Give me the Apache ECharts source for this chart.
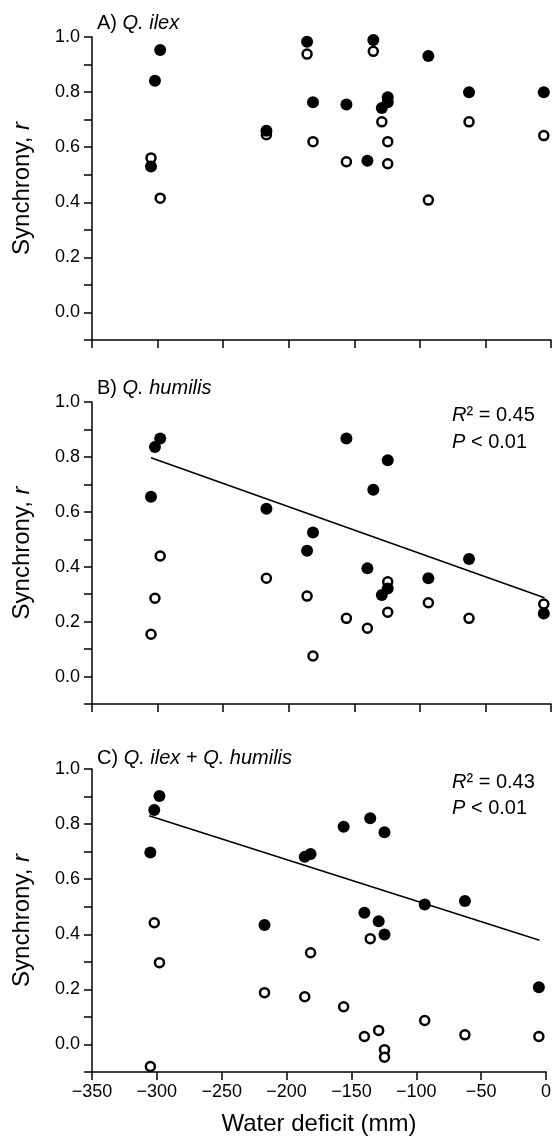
<!DOCTYPE html>
<html>
<head>
<meta charset="utf-8">
<script src="https://cdn.jsdelivr.net/npm/echarts@6/dist/echarts.min.js"></script>
<style>
  html, body { margin: 0; padding: 0; background: #fff; }
  #chart { width: 554px; height: 1147px; }
</style>
</head>
<body>
<div id="chart"></div>
<script>
// water deficit (mm) of the 15 sites, shared by all panels
var sites = [-305, -302, -298, -217, -186, -181.5, -156, -140, -135.5, -129, -124.5, -124.5, -93.5, -62.5, -5.5];

// A) Q. ilex
var ilexFilled = [0.530, 0.841, 0.953, 0.660, 0.983, 0.763, 0.755, 0.551, 0.989, 0.742, 0.781, 0.763, 0.931, 0.799, 0.799];
var ilexOpen = [0.561, null, 0.415, 0.645, 0.938, 0.620, 0.547, null, 0.948, 0.692, 0.620, 0.540, 0.408, 0.692, 0.642];

// B) Q. humilis
var humilisFilled = [0.655, 0.836, 0.867, 0.611, 0.458, 0.525, 0.867, 0.394, 0.680, 0.297, 0.321, 0.788, 0.358, 0.428, 0.230];
var humilisOpen = [0.154, 0.285, 0.439, 0.358, 0.293, 0.075, 0.212, 0.176, null, null, 0.345, 0.234, 0.269, 0.212, 0.264];
var humilisFit = [[-305, 0.797], [-5, 0.287]];

// C) Q. ilex + Q. humilis
var bothFilled = [0.697, 0.851, 0.902, 0.434, 0.681, 0.691, 0.790, 0.478, 0.821, 0.447, 0.399, 0.770, 0.508, 0.521, 0.208];
var bothOpen = [-0.080, 0.442, 0.297, 0.188, 0.173, 0.333, 0.137, 0.029, 0.384, 0.051, -0.019, -0.046, 0.087, 0.035, 0.029];
var bothFit = [[-306, 0.830], [-5, 0.378]];

var xTicks = [-350, -300, -250, -200, -150, -100, -50, 0];

var FONT = '"Liberation Sans", Arial, sans-serif';

function pairs(ys) {
    var out = [];
    for (var i = 0; i < sites.length; i++) {
        if (ys[i] !== null) out.push([sites[i], ys[i]]);
    }
    return out;
}

var grids = [
    {left: 92, width: 459, top: 37, height: 303},
    {left: 92, width: 459, top: 402, height: 302},
    {left: 92, width: 459, top: 769, height: 303}
];

var xAxes = [], yAxes = [];
for (var g = 0; g < 3; g++) {
    xAxes.push({
        type: 'value',
        gridIndex: g,
        min: xTicks[0],
        max: xTicks[xTicks.length - 1],
        interval: 50,
        splitLine: {show: false},
        axisLine: {onZero: false, lineStyle: {color: '#000', width: 1.5}},
        axisTick: {show: true, length: 8, lineStyle: {color: '#000', width: 1.5}},
        axisLabel: {
            show: g === 2,
            margin: 11,
            color: '#000',
            fontSize: 18,
            fontFamily: FONT,
            formatter: function (v) {
                return v < 0 ? '\u2212' + Math.abs(v) : String(v);
            }
        },
        name: g === 2 ? 'Water deficit (mm)' : '',
        nameLocation: 'middle',
        nameGap: 40,
        nameTextStyle: {color: '#000', fontSize: 24, fontFamily: FONT}
    });
    yAxes.push({
        type: 'value',
        gridIndex: g,
        min: -0.1,
        max: 1.0,
        interval: 0.1,
        splitLine: {show: false},
        axisLine: {onZero: false, lineStyle: {color: '#000', width: 1.5}},
        axisTick: {show: true, length: 8, lineStyle: {color: '#000', width: 1.5}},
        axisLabel: {
            margin: 12,
            color: '#000',
            fontSize: 18,
            fontFamily: FONT,
            formatter: function (v) {
                var k = Math.round(v * 10);
                return (k >= 0 && k % 2 === 0) ? v.toFixed(1) : '';
            }
        },
        name: 'Synchrony, {i|r}',
        nameLocation: 'middle',
        nameRotate: 90,
        nameGap: 58,
        nameTextStyle: {
            color: '#000', fontSize: 24, fontFamily: FONT,
            rich: {i: {fontStyle: 'italic', fontSize: 24, fontFamily: FONT, color: '#000'}}
        }
    });
}

function openSeries(data, g) {
    return {
        type: 'scatter', xAxisIndex: g, yAxisIndex: g, data: pairs(data),
        symbol: 'circle', symbolSize: 9, z: 3,
        itemStyle: {color: '#fff', borderColor: '#000', borderWidth: 2.5, opacity: 1}
    };
}
function filledSeries(data, g) {
    return {
        type: 'scatter', xAxisIndex: g, yAxisIndex: g, data: pairs(data),
        symbol: 'circle', symbolSize: 12, z: 4,
        itemStyle: {color: '#000', opacity: 1}
    };
}
function fitSeries(data, g) {
    return {
        type: 'line', xAxisIndex: g, yAxisIndex: g, data: data,
        symbol: 'none', silent: true, z: 2,
        lineStyle: {color: '#000', width: 1.6}
    };
}

function label(text, left, top, size) {
    var rich = {i: {fontStyle: 'italic', fontFamily: FONT, color: '#000', fontSize: size}};
    return {
        text: text, left: left, top: top,
        textStyle: {fontWeight: 'normal', fontFamily: FONT, fontSize: size, color: '#000', rich: rich}
    };
}

var option = {
    animation: false,
    backgroundColor: '#fff',
    title: [
        label('A) {i|Q. ilex}', 92, 8, 20),
        label('B) {i|Q. humilis}', 92, 373, 20),
        label('C) {i|Q. ilex} + {i|Q. humilis}', 92, 743, 20),
        label('{i|R}\u00b2 = 0.45', 447, 400, 20),
        label('{i|P} < 0.01', 447, 427, 20),
        label('{i|R}\u00b2 = 0.43', 447, 767, 20),
        label('{i|P} < 0.01', 447, 793, 20)
    ],
    grid: grids,
    xAxis: xAxes,
    yAxis: yAxes,
    series: [
        openSeries(ilexOpen, 0),
        filledSeries(ilexFilled, 0),
        fitSeries(humilisFit, 1),
        openSeries(humilisOpen, 1),
        filledSeries(humilisFilled, 1),
        fitSeries(bothFit, 2),
        openSeries(bothOpen, 2),
        filledSeries(bothFilled, 2)
    ]
};

var chart = echarts.init(document.getElementById('chart'));
chart.setOption(option);
</script>
</body>
</html>
